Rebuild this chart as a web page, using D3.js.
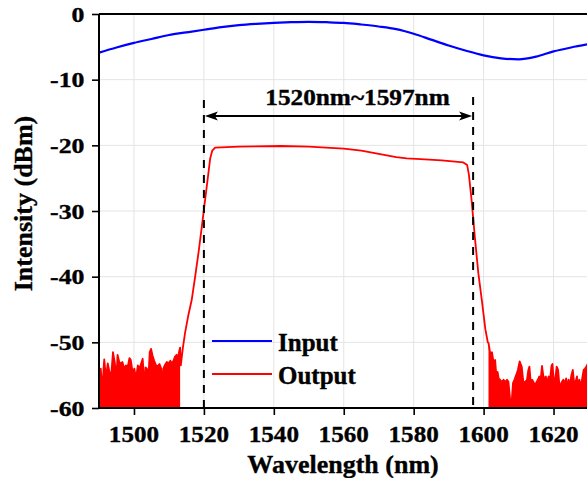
<!DOCTYPE html>
<html><head><meta charset="utf-8">
<script src="https://cdn.jsdelivr.net/npm/d3@7"></script>
<style>
html,body{margin:0;padding:0;background:#fff;}
svg text{font-family:"Liberation Serif","Times New Roman",serif;font-weight:bold;fill:#000;stroke:#000;stroke-width:0.35px;}
</style></head>
<body>
<svg id="chart" width="587" height="478"></svg>
<script>
// ---- data ----
const xTicks = [1500, 1520, 1540, 1560, 1580, 1600, 1620];
const yTicks = [0, -10, -20, -30, -40, -50, -60];
const seriesNames = ["Input", "Output"];
const annotationText = "1520nm~1597nm";
const bandEdges = [1520, 1597];

const inputWl = [1490,1495,1500,1505,1510,1515,1520,1525,1530,1535,1540,1545,1550,1555,1560,1565,1570,1575,1580,1585,1590,1595,1600,1605,1610,1615,1620,1625,1630];
const inputDb = [-5.9,-5.1,-4.4,-3.8,-3.2,-2.8,-2.4,-2.0,-1.7,-1.5,-1.35,-1.25,-1.2,-1.25,-1.35,-1.6,-1.9,-2.3,-3.0,-3.9,-4.8,-5.6,-6.3,-6.75,-6.9,-6.5,-5.7,-5.1,-4.6];

const leftNoiseWl = [1490.0,1490.5,1491.0,1491.3,1491.5,1492.0,1492.5,1493.0,1493.5,1494.0,1494.5,1495.0,1495.3,1495.8,1496.2,1496.7,1497.2,1497.7,1498.2,1498.7,1499.1,1499.6,1500.1,1500.6,1501.1,1501.6,1502.0,1502.5,1503.0,1503.3,1503.7,1504.1,1504.5,1504.9,1505.3,1505.8,1506.3,1506.8,1507.3,1507.8,1508.1,1508.4,1508.9,1509.4,1509.9,1510.4,1510.9,1511.3,1511.7,1512.2,1512.6,1513.0,1513.2];
const leftNoiseDb = [-54.5,-54.0,-57.5,-54.0,-52.6,-55.5,-53.2,-54.5,-55.0,-51.5,-53.0,-55.5,-51.9,-53.0,-53.2,-53.0,-54.0,-53.5,-53.8,-52.4,-52.7,-54.5,-54.0,-55.5,-53.5,-54.0,-53.3,-52.5,-57.0,-53.8,-54.0,-55.7,-51.5,-51.0,-52.0,-52.8,-53.5,-53.6,-53.3,-54.0,-57.5,-54.0,-53.4,-53.0,-53.2,-52.8,-53.2,-52.8,-52.2,-51.9,-52.3,-51.2,-50.8];

const signalWl = [1513.4,1514.0,1514.6,1515.5,1516.5,1517.5,1518.5,1519.5,1520.0,1521.0,1521.8,1522.4,1523.2,1530,1542,1550,1560,1565,1570,1575,1578,1582,1588,1594.2,1595.3,1595.8,1596.5,1597.5,1598.5,1599.5,1600.5,1601.2];
const signalDb = [-53.5,-50.8,-48.6,-46.0,-43.6,-40.0,-36.2,-32.0,-29.8,-25.5,-22.0,-20.8,-20.36,-20.2,-20.1,-20.2,-20.5,-20.8,-21.3,-21.8,-22.0,-22.1,-22.3,-22.6,-23.0,-24.5,-28.0,-34.0,-39.5,-43.6,-48.0,-50.0];

const rightNoiseWl = [1601.4,1601.9,1602.4,1602.8,1603.3,1603.6,1604.0,1604.3,1604.7,1605.2,1605.7,1606.2,1606.7,1607.1,1607.6,1607.9,1608.4,1608.8,1609.3,1609.8,1610.3,1610.6,1610.9,1611.4,1611.9,1612.4,1612.8,1613.1,1613.5,1613.9,1614.2,1614.7,1615.2,1615.7,1615.9,1616.3,1616.7,1617.1,1617.4,1617.8,1618.2,1618.6,1619.0,1619.4,1619.7,1620.1,1620.5,1620.9,1621.3,1621.6,1622.0,1622.4,1622.8,1623.2,1623.6,1624.0,1624.3,1624.7,1625.1,1625.5,1625.9,1626.3,1626.7,1627.0,1627.4,1627.8,1628.2,1628.6,1629.0,1629.4,1630.0];
const rightNoiseDb = [-50.1,-51.7,-51.5,-52.9,-52.7,-54.8,-54.5,-55.5,-55.7,-56.0,-55.7,-56.0,-55.7,-56.0,-58.8,-60.0,-56.2,-55.7,-55.0,-54.2,-52.9,-53.3,-53.7,-56.2,-56.0,-55.7,-54.2,-53.7,-56.2,-55.7,-56.0,-56.5,-56.0,-55.5,-55.2,-55.7,-53.6,-55.2,-55.5,-55.2,-56.2,-55.2,-55.7,-53.6,-53.3,-56.2,-55.5,-53.7,-54.2,-56.0,-56.8,-56.0,-55.7,-56.2,-55.5,-57.0,-55.7,-56.5,-55.0,-54.2,-56.2,-56.0,-55.2,-56.5,-55.7,-56.8,-55.5,-54.2,-54.0,-53.7,-53.0];

// ---- layout ----
const svg = d3.select("#chart");
const x = d3.scaleLinear().domain([1490, 1630]).range([99, 588.5]);
const y = d3.scaleLinear().domain([-60, 0]).range([408, 14]);

const toPts = (wl, db) => wl.map((w, i) => ({w, v: db[i]}));
const inputPts = toPts(inputWl, inputDb);
const leftPts = toPts(leftNoiseWl, leftNoiseDb);
const sigPts = toPts(signalWl, signalDb);
const rightPts = toPts(rightNoiseWl, rightNoiseDb);
const outputPts = leftPts.concat(sigPts, rightPts);

svg.append("clipPath").attr("id", "clip").append("rect")
  .attr("x", x(1490)).attr("y", y(0)).attr("width", x(1630) - x(1490)).attr("height", y(-60) - y(0));

// grid
const grid = svg.append("g");
grid.selectAll("line.gx").data(xTicks).join("line")
  .attr("x1", d => x(d)).attr("x2", d => x(d)).attr("y1", y(0)).attr("y2", y(-60))
  .attr("stroke", "#e4e4e4").attr("stroke-width", 1);
grid.selectAll("line.gy").data(yTicks.filter(d => d !== 0 && d !== -60)).join("line")
  .attr("x1", x(1490)).attr("x2", x(1630)).attr("y1", d => y(d)).attr("y2", d => y(d))
  .attr("stroke", "#e4e4e4").attr("stroke-width", 1);

const plot = svg.append("g").attr("clip-path", "url(#clip)");

const area = d3.area().x(d => x(d.w)).y0(y(-60)).y1(d => y(d.v));
plot.append("path").datum(leftPts).attr("d", area).attr("fill", "#ff0000");
plot.append("path").datum(rightPts).attr("d", area).attr("fill", "#ff0000");

const line = d3.line().x(d => x(d.w)).y(d => y(d.v));
plot.append("path").datum(outputPts)
  .attr("d", line.curve(d3.curveLinear))
  .attr("fill", "none").attr("stroke", "#ff0000").attr("stroke-width", 1.8).attr("stroke-linejoin", "round");

plot.append("path").datum(inputPts)
  .attr("d", d3.line().x(d => x(d.w)).y(d => y(d.v)).curve(d3.curveMonotoneX))
  .attr("fill", "none").attr("stroke", "#0000ff").attr("stroke-width", 2.2);

// axes
const xAxis = svg.append("g").attr("transform", `translate(0,${y(-60)})`)
  .call(d3.axisBottom(x).tickValues(xTicks).tickSize(7).tickFormat(""));
const yAxis = svg.append("g").attr("transform", `translate(${x(1490)},0)`)
  .call(d3.axisLeft(y).tickValues(yTicks).tickSize(7).tickFormat(""));
[xAxis, yAxis].forEach(a => {
  a.select(".domain").attr("stroke", "#000").attr("stroke-width", 2);
  a.selectAll(".tick line").attr("stroke", "#000").attr("stroke-width", 1.6);
});
xAxis.select(".domain").attr("d", `M${x(1490)},0H${x(1630)}`);
yAxis.select(".domain").attr("d", `M0,${y(-60)}V${y(0)}`);
svg.append("line").attr("x1", x(1490)).attr("x2", x(1630)).attr("y1", y(0)).attr("y2", y(0))
  .attr("stroke", "#000").attr("stroke-width", 2);

function txt(tx, ty, s, size, sx, anchor, rot) {
  return svg.append("text")
    .attr("transform", `translate(${tx},${ty})` + (rot ? ` rotate(${rot})` : "") + ` scale(${sx},1)`)
    .attr("text-anchor", anchor).attr("font-size", size).text(s);
}
xTicks.forEach(t => txt(x(t), 441.5, String(t), 23.5, 1.07, "middle"));
yTicks.forEach(t => txt(84.5, y(t) + 7.5, String(t), 21.5, 1.2, "end"));

txt(343, 473, "Wavelength (nm)", 26, 1.0, "middle");
txt(32, 203.5, "Intensity (dBm)", 26, 1.0, "middle", -90);

svg.append("line").attr("x1", x(bandEdges[0])).attr("x2", x(bandEdges[0])).attr("y1", 100).attr("y2", y(-60))
  .attr("stroke", "#000").attr("stroke-width", 2).attr("stroke-dasharray", "8,7");
svg.append("line").attr("x1", x(bandEdges[1])).attr("x2", x(bandEdges[1])).attr("y1", 97).attr("y2", 405)
  .attr("stroke", "#000").attr("stroke-width", 2).attr("stroke-dasharray", "8,7");

const ay = 116, ax1 = x(bandEdges[0]) + 1, ax2 = x(bandEdges[1]) - 1;
svg.append("line").attr("x1", ax1 + 8).attr("x2", ax2 - 8).attr("y1", ay).attr("y2", ay)
  .attr("stroke", "#000").attr("stroke-width", 2);
svg.append("path").attr("d", `M${ax1},${ay}L${ax1 + 13},${ay - 4.5}L${ax1 + 10},${ay}L${ax1 + 13},${ay + 4.5}Z`).attr("fill", "#000");
svg.append("path").attr("d", `M${ax2},${ay}L${ax2 - 13},${ay - 4.5}L${ax2 - 10},${ay}L${ax2 - 13},${ay + 4.5}Z`).attr("fill", "#000");
txt(357.5, 105, annotationText, 23, 1.1, "middle");

const legColors = ["#0000ff", "#ff0000"];
seriesNames.forEach((n, i) => {
  const ly = [341, 374][i];
  svg.append("line").attr("x1", 212).attr("x2", 272).attr("y1", ly).attr("y2", ly)
    .attr("stroke", legColors[i]).attr("stroke-width", 2);
  txt(278, ly + 10, n, 25, 1.0, "start");
});
</script>
</body></html>
